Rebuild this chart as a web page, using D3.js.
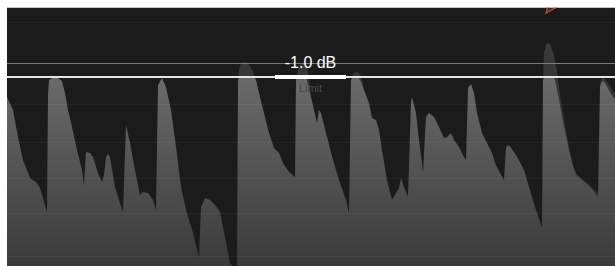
<!DOCTYPE html>
<html><head><meta charset="utf-8">
<script src="https://cdn.jsdelivr.net/npm/d3@7"></script>
<style>html,body{margin:0;padding:0;background:#fff;}svg{display:block;}</style>
</head><body><svg id="c" width="615" height="266"></svg>
<script>
// time in samples, level in meter units (0 = floor)
const outTime = [0,6,11,16,23,30,33,40,41,42,45,51,55,58,61,65,70,75,77,79,83,86,91,95,97,99,101,103,108,113,116,119,123,128,133,136,141,146,149,151,155,159,164,169,174,179,186,192,194,198,203,208,213,218,223,225,230,231,233,247,249,252,257,262,267,272,276,282,288,289,291,299,301,304,307,310,311,312,314,319,326,332,339,342,344,346,351,354,357,362,365,369,372,375,380,385,389,392,394,397,401,404,405,409,412,416,419,422,427,432,437,440,444,447,452,457,459,461,464,467,470,475,480,485,488,493,497,499,502,507,512,517,522,528,535,536,538,546,548,552,557,562,565,569,573,580,586,591,593,595,598,603,608];
const outLevel = [169,156,129,106,88,83,78,54,171,186,188,188,185,173,156,139,116,96,81,114,113,109,93,84,91,109,112,109,79,63,54,141,123,96,71,74,73,66,56,181,188,179,156,119,79,56,33,8,59,68,66,61,54,29,3,0,0,186,189,189,186,173,153,133,118,113,103,94,89,186,189,189,181,169,156,143,149,156,153,133,106,86,66,53,186,189,189,184,176,163,148,146,136,116,86,66,73,78,88,79,69,164,169,153,126,94,149,153,149,139,128,129,133,126,119,109,106,178,182,173,153,133,123,113,103,93,86,119,121,114,106,96,79,59,38,186,189,189,186,166,139,116,103,91,88,82,76,69,179,185,183,174,166];
// unlimited input where it exceeds the output (null = gap)
const inTime  = [231,232,234,239,243,247,249,252,null,289,291,293,297,300,302,304,null,344,346,349,352,355,357,null,536,537,540,543,547,550,553,558,563,567,570,575,582,591,592,null,593,595,598,603,608];
const inLevel = [186,196,203,204,200,192,186,173,null,186,196,202,203,198,188,169,null,186,192,194,193,186,176,null,186,214,223,222,211,194,171,142,114,98,92,87,82,73,69,null,182,188,187,180,171];
const gridLevels = [244,162,124,88,53,10];
const ceilingLevel = 203;
const limitLevel = 189;
const limitLabel = "-1.0 dB";
const limitCaption = "Limit";

const svg = d3.select("#c");
const X0 = 7, X1 = 615, Y0 = 7.5, Y1 = 266;
const x = d3.scaleLinear().domain([0,608]).range([X0,X1]);
const y = d3.scaleLinear().domain([0,258.5]).range([Y1,Y0]);

const defs = svg.append("defs");
defs.append("clipPath").attr("id","clip").append("rect")
  .attr("x",X0).attr("y",Y0).attr("width",X1-X0).attr("height",Y1-Y0);
const g1 = defs.append("linearGradient").attr("id","gOut").attr("gradientUnits","userSpaceOnUse")
  .attr("x1",0).attr("x2",0).attr("y1",Y0).attr("y2",Y1);
g1.append("stop").attr("offset","0%").attr("stop-color","#7c7c7c");
g1.append("stop").attr("offset","100%").attr("stop-color","#3a3a3a");

const root = svg.append("g").attr("clip-path","url(#clip)");
root.append("rect").attr("x",X0).attr("y",Y0).attr("width",X1-X0).attr("height",Y1-Y0).attr("fill","#1b1b1b");

const inData = inTime.map((t,i)=> t===null ? null : {t, v:inLevel[i]});
const area = d3.area().defined(d=>d!==null).x(d=>x(d.t)).y0(y(0)).y1(d=>y(d.v)).curve(d3.curveLinear);
root.append("path").datum(inData).attr("d",area).attr("fill","url(#gOut)").attr("opacity",0.35);

const outData = outTime.map((t,i)=>({t, v:outLevel[i]}));
root.append("path").datum(outData).attr("d",area).attr("fill","url(#gOut)");

root.selectAll("line.grid").data(gridLevels).enter().append("line").attr("class","grid")
  .attr("x1",X0).attr("x2",X1).attr("y1",d=>Math.round(y(d))+0.5).attr("y2",d=>Math.round(y(d))+0.5)
  .attr("stroke","#fff").attr("stroke-opacity",0.04);

root.append("line").attr("x1",X0).attr("x2",X1)
  .attr("y1",Math.round(y(ceilingLevel))+0.5).attr("y2",Math.round(y(ceilingLevel))+0.5)
  .attr("stroke","#7a7a7a").attr("stroke-width",1);
root.append("line").attr("x1",X0).attr("x2",X1)
  .attr("y1",y(limitLevel)).attr("y2",y(limitLevel))
  .attr("stroke","#e4e4e4").attr("stroke-width",2);

const cx = 310.5;
root.append("rect").attr("x",cx-35.5).attr("y",y(limitLevel)-2).attr("width",71).attr("height",4).attr("fill","#fff");
root.append("text").attr("x",cx).attr("y",y(limitLevel)-9).attr("text-anchor","middle")
  .attr("font-family","'Liberation Sans', Arial, sans-serif").attr("font-size",16).attr("fill","#fff").text(limitLabel);
root.append("text").attr("x",cx).attr("y",y(limitLevel)+15).attr("text-anchor","middle")
  .attr("font-family","'Liberation Sans', Arial, sans-serif").attr("font-size",11).attr("fill","#4a4a4a").text(limitCaption);

// clip indicator marker at the over-limit peak
const mx = x(538), my = Y0;
root.append("path").attr("d",`M${mx+1},${my+5.5} L${mx+11},${my} L${mx+13},${my-4} L${mx+3},${my-2} Z`)
  .attr("fill","rgba(190,80,58,0.25)").attr("stroke","#b8523c").attr("stroke-width",1.3);
</script></body></html>
